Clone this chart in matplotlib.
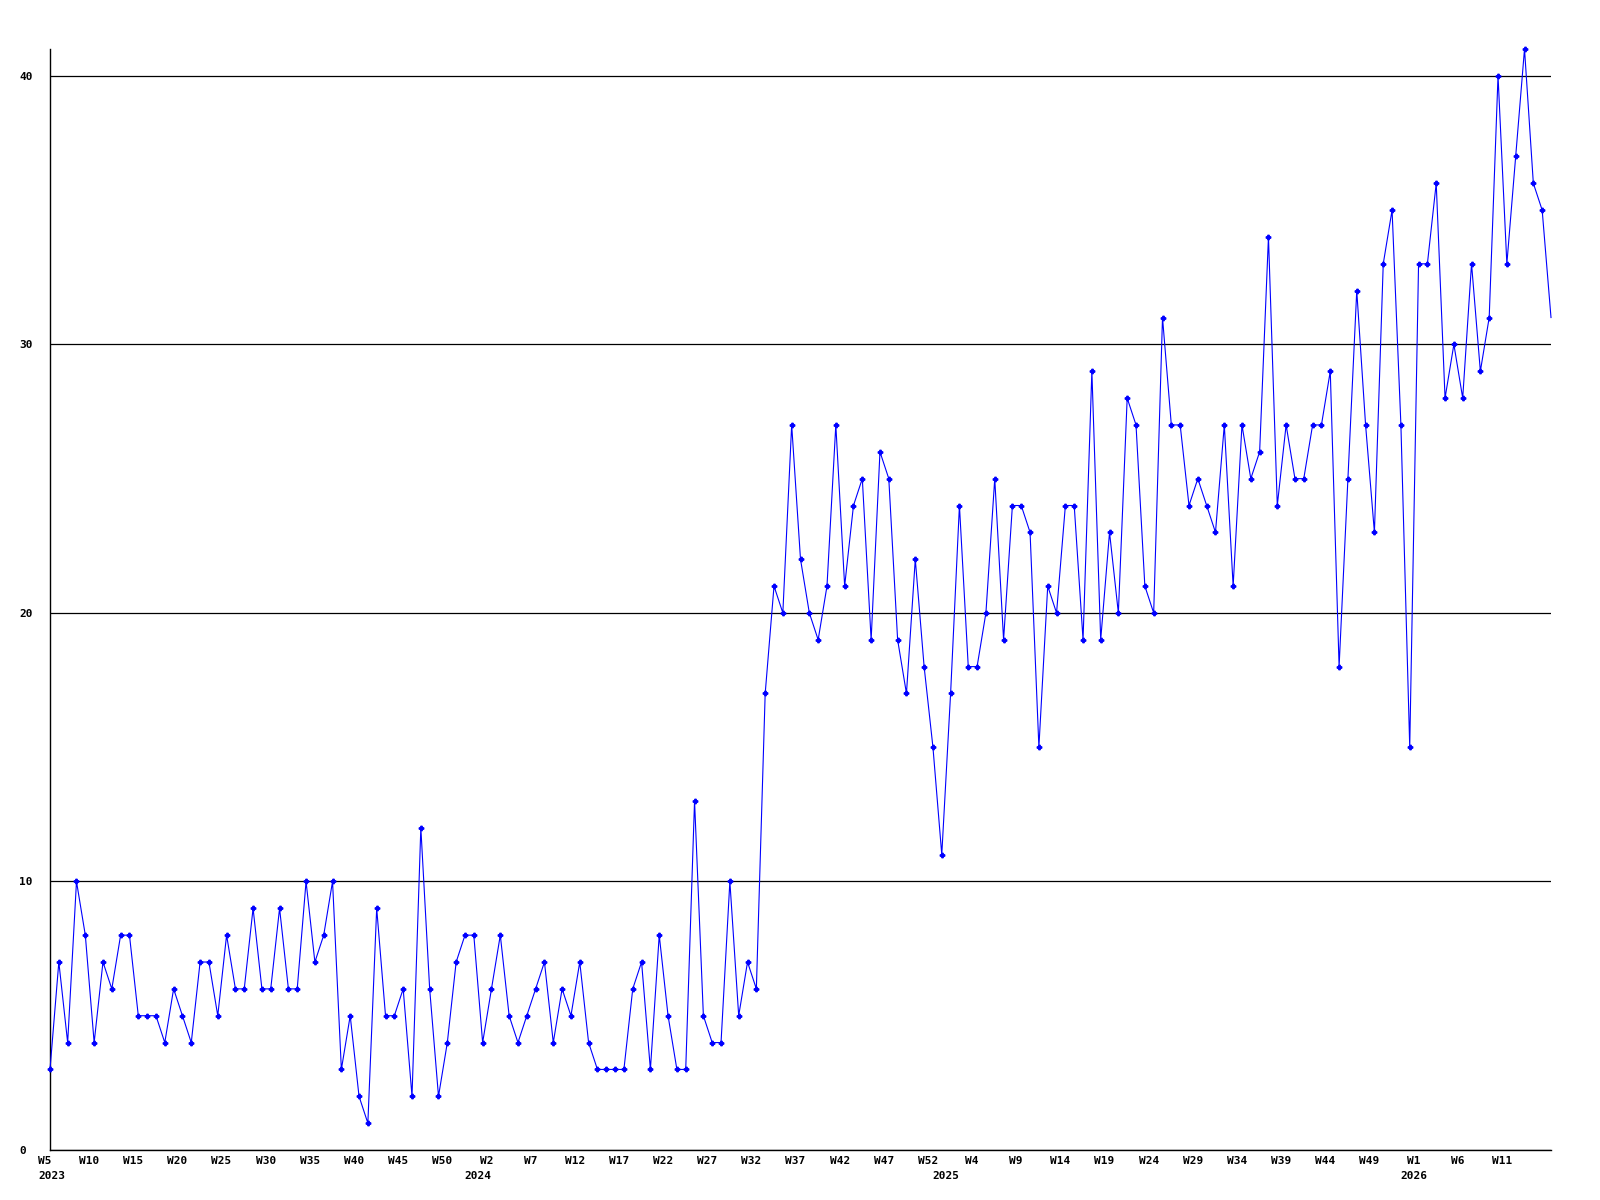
import matplotlib
matplotlib.use('Agg')
import matplotlib.pyplot as plt
from matplotlib.transforms import ScaledTranslation

# weekly counts, 2023 W5 .. 2026 W15
values = [3, 7, 4, 10, 8, 4, 7, 6, 8, 8, 5, 5, 5, 4, 6, 5, 4, 7, 7, 5,
          8, 6, 6, 9, 6, 6, 9, 6, 6, 10, 7, 8, 10, 3, 5, 2, 1, 9, 5, 5,
          6, 2, 12, 6, 2, 4, 7, 8, 8, 4, 6, 8, 5, 4, 5, 6, 7, 4, 6, 5,
          7, 4, 3, 3, 3, 3, 6, 7, 3, 8, 5, 3, 3, 13, 5, 4, 4, 10, 5, 7,
          6, 17, 21, 20, 27, 22, 20, 19, 21, 27, 21, 24, 25, 19, 26, 25, 19, 17, 22, 18,
          15, 11, 17, 24, 18, 18, 20, 25, 19, 24, 24, 23, 15, 21, 20, 24, 24, 19, 29, 19,
          23, 20, 28, 27, 21, 20, 31, 27, 27, 24, 25, 24, 23, 27, 21, 27, 25, 26, 34, 24,
          27, 25, 25, 27, 27, 29, 18, 25, 32, 27, 23, 33, 35, 27, 15, 33, 33, 36, 28, 30,
          28, 33, 29, 31, 40, 33, 37, 41, 36, 35, 31]

week_labels = ['W5', 'W10', 'W15', 'W20', 'W25', 'W30', 'W35', 'W40', 'W45', 'W50',
               'W2', 'W7', 'W12', 'W17', 'W22', 'W27', 'W32', 'W37', 'W42', 'W47',
               'W52', 'W4', 'W9', 'W14', 'W19', 'W24', 'W29', 'W34', 'W39', 'W44',
               'W49', 'W1', 'W6', 'W11']
years = ['2023', '2024', '2025', '2026']
year_pos = [0, 49, 102, 155]

plt.rcParams['font.family'] = 'DejaVu Sans Mono'

fig = plt.figure(figsize=(16, 12), dpi=100)
ax = fig.add_axes([50 / 1600, 50 / 1200, 1501 / 1600, 1101 / 1200])

x = list(range(len(values)))
ax.plot(x, values, color='#0000ff', lw=0.8, marker='P', ms=3.2,
        markevery=list(range(len(values) - 1)), zorder=3, clip_on=False)

ax.set_xlim(0, len(values) - 1)
ax.set_ylim(0, 41)

for s in ['top', 'right']:
    ax.spines[s].set_visible(False)
for s in ['left', 'bottom']:
    ax.spines[s].set_linewidth(1.0)
    ax.spines[s].set_color('black')

ax.set_yticks([0, 10, 20, 30, 40])
ax.set_yticklabels(['0', '10', '20', '30', '40'])
ax.yaxis.grid(True, color='black', lw=0.9)
ax.set_axisbelow(True)
ax.tick_params(axis='y', length=0, pad=22, labelsize=8)
for lab in ax.get_yticklabels():
    lab.set_horizontalalignment('left')
    lab.set_fontweight('bold')

ax.set_xticks(range(0, 5 * len(week_labels), 5))
ax.set_xticklabels(week_labels)
ax.tick_params(axis='x', length=0, pad=4, labelsize=8)
shift = ScaledTranslation(-5 / 100, 0, fig.dpi_scale_trans)
for lab in ax.get_xticklabels():
    lab.set_fontweight('bold')
    lab.set_transform(lab.get_transform() + shift)

for i, (yr, p) in enumerate(zip(years, year_pos)):
    dx = 1.7 if i == 0 else -3.6
    ax.annotate(yr, xy=(p, 0), xycoords=('data', 'axes fraction'),
                xytext=(dx, -19), textcoords='offset points',
                ha='center', va='center', fontsize=8, fontweight='bold',
                annotation_clip=False)

fig.savefig('out.png', dpi=100)
